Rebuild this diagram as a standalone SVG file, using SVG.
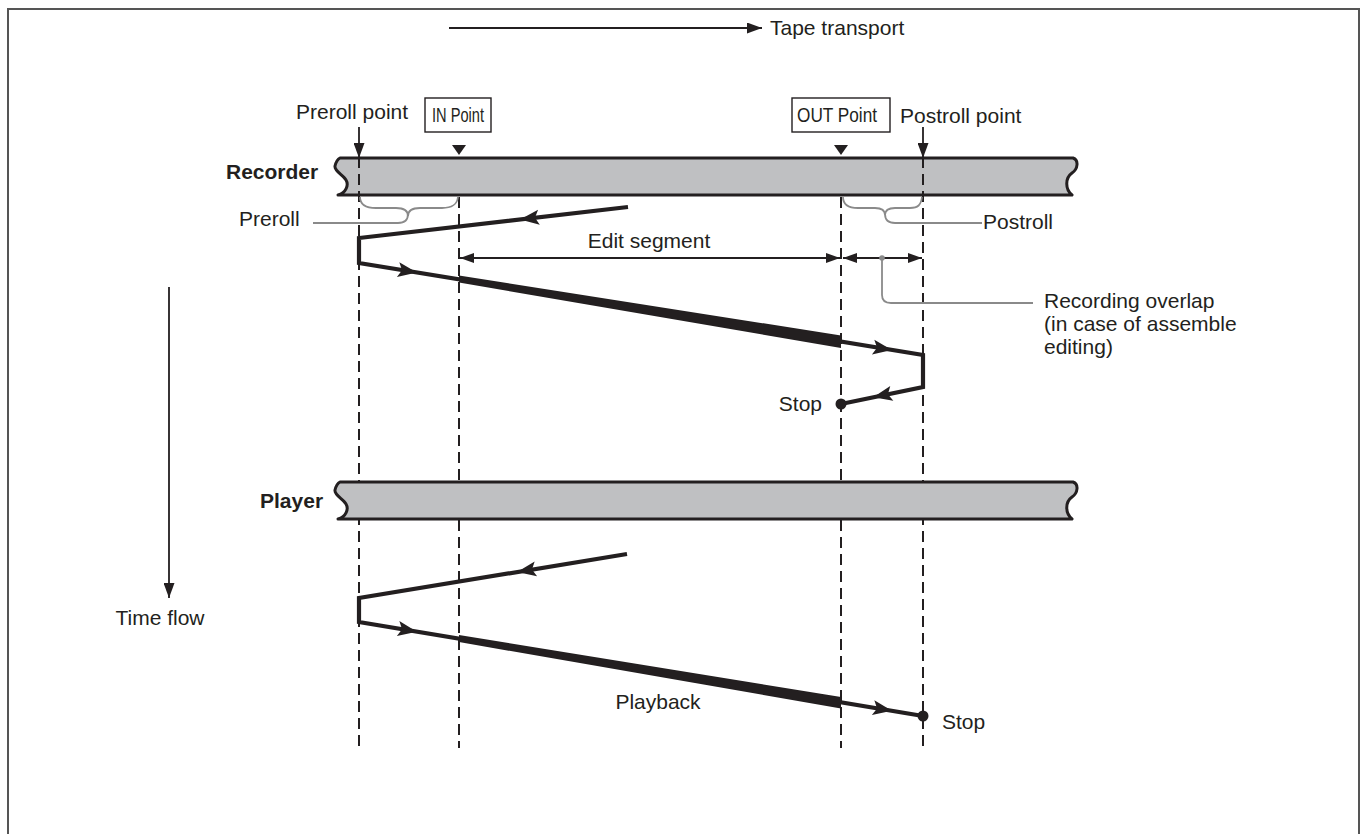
<svg xmlns="http://www.w3.org/2000/svg" width="1360" height="834" viewBox="0 0 1360 834">
<style>
text{font-family:"Liberation Sans",Arial,sans-serif;font-size:21px;fill:#231f20}
.b{font-weight:bold}
.tape{fill:#bfc0c2;stroke:#231f20;stroke-width:3;stroke-linejoin:round}
.dash{stroke:#231f20;stroke-width:2;stroke-dasharray:11 6;fill:none}
.path{stroke:#231f20;stroke-width:4.2;fill:none;stroke-linejoin:miter}
.grey{stroke:#8a8a8a;stroke-width:1.8;fill:none}
.thin{stroke:#231f20;stroke-width:1.8;fill:none}
.box{fill:#fff;stroke:#231f20;stroke-width:1.4}
</style>
<defs>
<path id="ah" d="M10,0 L-9,-7.5 L-5,0 L-9,7.5 Z" fill="#231f20"/>
<marker id="arr" viewBox="0 0 15 11" refX="15" refY="5.5" markerWidth="15" markerHeight="11" markerUnits="userSpaceOnUse" orient="auto"><path d="M0,0 L15,5.5 L0,11 Z" fill="#231f20"/></marker>
<marker id="darr" viewBox="0 0 14 10" refX="14" refY="5" markerWidth="14" markerHeight="10" markerUnits="userSpaceOnUse" orient="auto"><path d="M0,0 L14,5 L0,10 Z" fill="#231f20"/></marker>
<marker id="darrs" viewBox="0 0 14 10" refX="0" refY="5" markerWidth="14" markerHeight="10" markerUnits="userSpaceOnUse" orient="auto"><path d="M14,0 L0,5 L14,10 Z" fill="#231f20"/></marker>
</defs>
<rect id="frame" x="8" y="9" width="1351" height="840" fill="#fff" stroke="#555" stroke-width="2"/>

<g id="tape-transport">
<line x1="449" y1="28" x2="762" y2="28" class="thin" marker-end="url(#arr)"/>
<text x="770" y="35">Tape transport</text>
</g>

<g id="time-flow">
<line x1="169" y1="287" x2="169" y2="598" class="thin" marker-end="url(#arr)"/>
<text x="160" y="625" text-anchor="middle">Time flow</text>
</g>

<g id="recorder">
<path class="tape" d="M340,158 L1073,158 C1079,160 1078,169 1072,173 C1065,178 1065,189 1072,195 L338,195 C346,193 349,185 346,180 C343,175 334,171 335,166 C336,162 338,159 340,158 Z"/>
<text class="b" x="226" y="179">Recorder</text>
</g>

<g id="dashed-lines">
<line class="dash" x1="359" y1="157" x2="359" y2="748"/>
<line class="dash" x1="923" y1="157" x2="923" y2="748"/>
<line class="dash" x1="459" y1="197" x2="459" y2="748"/>
<line class="dash" x1="841" y1="197" x2="841" y2="748"/>
</g>

<g id="player">
<path class="tape" d="M340,482 L1073,482 C1079,484 1078,493 1072,497 C1065,502 1065,513 1072,519 L338,519 C346,517 349,509 346,504 C343,499 334,495 335,490 C336,486 338,483 340,482 Z"/>
<text class="b" x="260" y="508">Player</text>
</g>

<g id="preroll-point">
<text x="296" y="119">Preroll point</text>
<line x1="359" y1="127" x2="359" y2="158" class="thin" stroke-width="2.2" marker-end="url(#arr)"/>
</g>
<g id="postroll-point">
<text x="900" y="123">Postroll point</text>
<line x1="923" y1="127" x2="923" y2="158" class="thin" stroke-width="2.2" marker-end="url(#arr)"/>
</g>
<g id="in-point">
<rect class="box" x="425" y="98" width="66" height="34"/>
<text x="432" y="122" textLength="52" lengthAdjust="spacingAndGlyphs">IN Point</text>
<path d="M452,145 L466,145 L459,155 Z" fill="#231f20"/>
</g>
<g id="out-point">
<rect class="box" x="792" y="98" width="98" height="34"/>
<text x="797" y="122" textLength="80" lengthAdjust="spacingAndGlyphs">OUT Point</text>
<path d="M834,145 L848,145 L841,155 Z" fill="#231f20"/>
</g>

<g id="preroll">
<path class="grey" d="M360,197 C360,205 366,208 376,208 L396,208 C404,208 408,211 408,216 C408,211 412,208 420,208 L442,208 C452,208 457,205 458,197"/>
<path class="grey" d="M408,214 C408,220 405,223 398,223 L313,223"/>
<text x="239" y="226">Preroll</text>
</g>
<g id="postroll">
<path class="grey" d="M843,197 C843,205 848,208 858,208 L875,208 C882,208 885,211 885,215 C885,211 888,208 895,208 L910,208 C918,208 921,205 922,197"/>
<path class="grey" d="M885,214 C885,220 888,223 895,223 L982,223"/>
<text x="983" y="229">Postroll</text>
</g>

<g id="edit-segment">
<line class="thin" x1="460" y1="258" x2="840" y2="258" marker-start="url(#darrs)" marker-end="url(#darr)"/>
<text x="649" y="248" text-anchor="middle">Edit segment</text>
</g>
<g id="recording-overlap">
<line class="thin" x1="843" y1="258" x2="922" y2="258" marker-start="url(#darrs)" marker-end="url(#darr)"/>
<path class="grey" d="M882,258 L882,295 C882,300 885,303 891,303 L1033,303"/>
<circle cx="882" cy="258" r="2.8" fill="#8a8a8a"/>
<text x="1044" y="308">Recording overlap</text>
<text x="1044" y="331">(in case of assemble</text>
<text x="1044" y="354">editing)</text>
</g>

<g id="connectors">
<path class="path" d="M628,207 L359,238 L359,263 L923,355 L923,387 L841,404"/>
<path d="M459,275.5 L841,335.5 L841,348 L459,282.5 Z" fill="#231f20"/>
<use href="#ah" transform="translate(530,218.3) rotate(173.45)"/>
<use href="#ah" transform="translate(407,271) rotate(9.26)"/>
<use href="#ah" transform="translate(882,348.5) rotate(9.26)"/>
<use href="#ah" transform="translate(883,395.2) rotate(168.15)"/>
<circle cx="841" cy="404" r="5.5" fill="#231f20"/>

<path class="path" d="M627,554 L359,598 L359,622 L923,716"/>
<path d="M459,635 L841,697 L841,708.5 L459,642 Z" fill="#231f20"/>
<use href="#ah" transform="translate(527,570.4) rotate(170.68)"/>
<use href="#ah" transform="translate(407,630) rotate(9.46)"/>
<use href="#ah" transform="translate(882,709.2) rotate(9.46)"/>
<circle cx="923" cy="716" r="5.5" fill="#231f20"/>
</g>

<g id="labels">
<text x="822" y="411" text-anchor="end">Stop</text>
<text x="942" y="729">Stop</text>
<text x="658" y="709" text-anchor="middle">Playback</text>
</g>
</svg>
